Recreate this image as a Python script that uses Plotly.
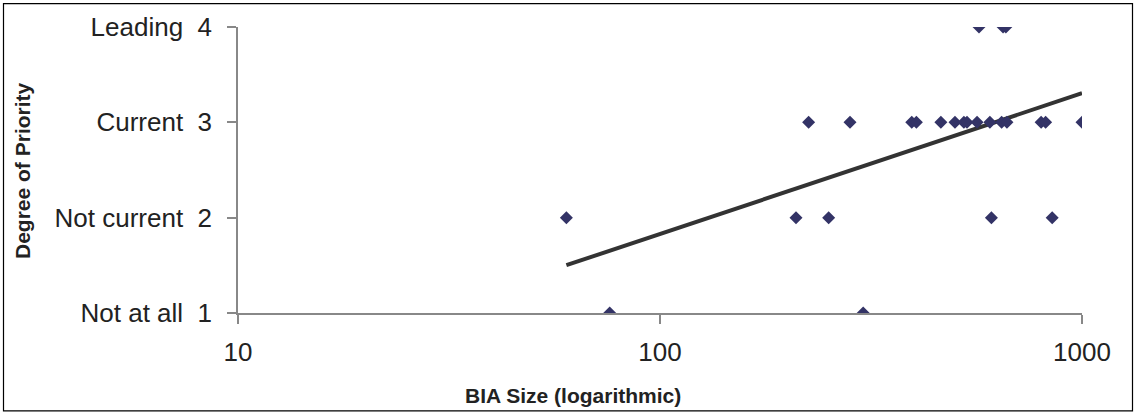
import numpy as np
import plotly.graph_objects as go

# Data (BIA size vs degree of priority)
bia_size = [76, 303,
            60, 210, 251, 610, 850,
            225, 282, 395, 405, 463, 500, 525, 534, 564, 605, 645, 664, 800, 820, 1000,
            570, 650, 660]
priority = [1, 1,
            2, 2, 2, 2, 2,
            3, 3, 3, 3, 3, 3, 3, 3, 3, 3, 3, 3, 3, 3, 3,
            4, 4, 4]

y_tickvals = [1, 2, 3, 4]
y_ticktext = ["Not at all", "Not current", "Current", "Leading"]
x_tickvals = [10, 100, 1000]
x_title = "BIA Size (logarithmic)"
y_title = "Degree of Priority"

# Logarithmic trendline (y = a*ln(x) + b), least squares
xs = np.array(bia_size, dtype=float)
ys = np.array(priority, dtype=float)
a, b = np.polyfit(np.log(xs), ys, 1)
tx = np.geomspace(xs.min(), xs.max(), 60)
ty = a * np.log(tx) + b

NB = "\u00a0"
fig = go.Figure()
fig.add_trace(go.Scatter(x=tx, y=ty, mode="lines",
                         line=dict(color="#333333", width=4),
                         hoverinfo="skip", showlegend=False))
fig.add_trace(go.Scatter(x=bia_size, y=priority, mode="markers",
                         marker=dict(symbol="diamond", size=10, color="#333366",
                                     line=dict(width=0)),
                         showlegend=False))

W, H = 1136, 415
L, R, T, B = 238, 54, 25, 102
pw, ph = W - L - R, H - T - B

def px(X):
    return (X - L) / pw

def py(Y):
    return (H - B - Y) / ph

font_family = "Liberation Sans, Arial, sans-serif"
axis_common = dict(showgrid=False, zeroline=False, showline=True,
                   linecolor="#888888", linewidth=1.5,
                   ticks="outside", ticklen=9, tickcolor="#888888", tickwidth=1.5,
                   tickfont=dict(size=26, color="#222222"))
fig.update_layout(
    width=W, height=H,
    margin=dict(l=L, r=R, t=T, b=B, pad=0),
    paper_bgcolor="white", plot_bgcolor="white",
    font=dict(family=font_family, color="#222222"),
    xaxis=dict(type="log", range=[1, 3], tickvals=x_tickvals,
               ticktext=[str(v) for v in x_tickvals],
               ticklabelstandoff=6, **axis_common),
    yaxis=dict(range=[1, 4], tickvals=y_tickvals,
               ticktext=[f"{t}{NB}{NB}{v}" for t, v in zip(y_ticktext, y_tickvals)],
               ticklabelstandoff=10, **axis_common),
    shapes=[dict(type="rect", xref="paper", yref="paper",
                 x0=px(3.5), x1=px(1132.5), y0=py(411.5), y1=py(1.5),
                 line=dict(color="#000000", width=1.2), layer="below")],
    annotations=[
        dict(text=f"<b>{x_title}</b>", xref="paper", yref="paper",
             x=px(573), y=py(396), xanchor="center", yanchor="middle",
             showarrow=False, font=dict(size=21, color="#222222")),
        dict(text=f"<b>{y_title}</b>", xref="paper", yref="paper",
             x=px(23), y=py(170), xanchor="center", yanchor="middle",
             textangle=-90, showarrow=False, font=dict(size=21, color="#222222")),
    ],
)

fig.write_html("out.html")
